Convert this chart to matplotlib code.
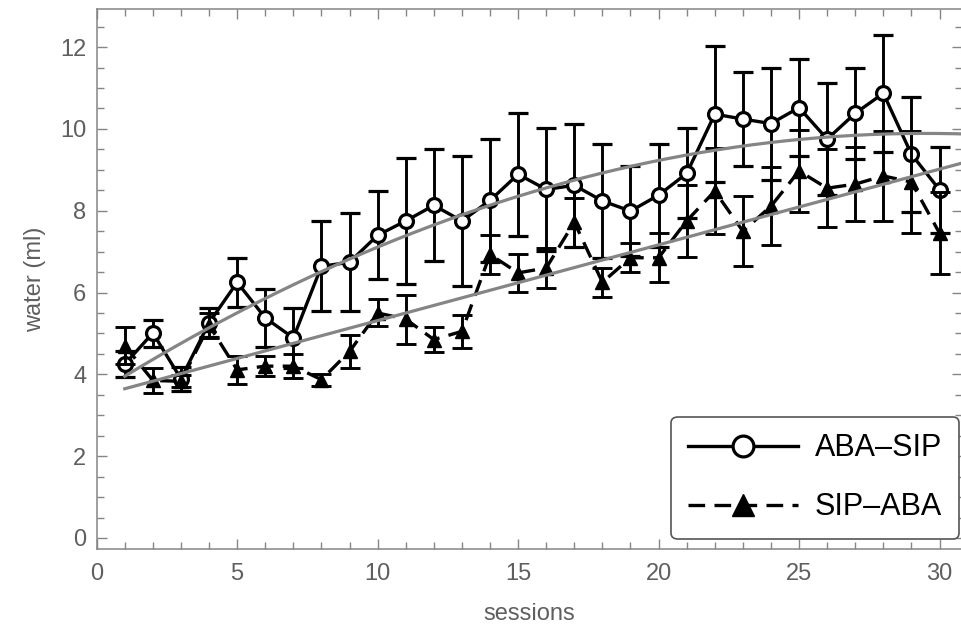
import numpy as np
import matplotlib
matplotlib.use("Agg")
import matplotlib.pyplot as plt
from matplotlib.ticker import MultipleLocator

plt.rcParams['font.family'] = ['Liberation Sans', 'DejaVu Sans']

# datos
sesiones = list(range(1, 31))
aba_sip = [4.25, 5.01, 3.89, 5.26, 6.25, 5.38, 4.89, 6.64, 6.74, 7.40,
           7.75, 8.13, 7.75, 8.25, 8.89, 8.52, 8.62, 8.24, 7.99, 8.38,
           8.91, 10.36, 10.24, 10.13, 10.52, 9.75, 10.38, 10.87, 9.38, 8.51]
aba_sip_err = [0.32, 0.33, 0.30, 0.35, 0.60, 0.70, 0.74, 1.10, 1.20, 1.07,
               1.55, 1.37, 1.58, 1.50, 1.50, 1.50, 1.50, 1.40, 1.10, 1.26,
               1.10, 1.66, 1.14, 1.37, 1.19, 1.36, 1.12, 1.43, 1.40, 1.05]
sip_aba = [4.70, 3.85, 3.83, 5.20, 4.11, 4.20, 4.20, 3.87, 4.56, 5.50,
           5.35, 4.85, 5.05, 6.93, 6.48, 6.60, 7.72, 6.25, 6.85, 6.85,
           7.75, 8.48, 7.50, 8.11, 8.97, 8.55, 8.65, 8.85, 8.70, 7.45]
sip_aba_err = [0.45, 0.30, 0.15, 0.30, 0.35, 0.25, 0.30, 0.15, 0.40, 0.33,
               0.60, 0.30, 0.40, 0.47, 0.47, 0.50, 0.60, 0.35, 0.35, 0.60,
               0.88, 1.05, 0.85, 0.95, 1.00, 0.95, 0.90, 1.10, 1.25, 1.00]
etiquetas = ["ABA\u2013SIP", "SIP\u2013ABA"]

gris = "#858585"
texto_gris = "#5f5f5f"

fig = plt.figure(figsize=(9.62, 6.35), dpi=100)
ax = fig.add_axes([0.1005, 0.1354, 0.8995, 0.8504])

# ajustes (cuadratico y lineal) calculados desde los datos
xs = np.linspace(1, 31, 200)
c1 = np.polyfit(sesiones, aba_sip, 2)
c2 = np.polyfit(sesiones, sip_aba, 1)
ax.plot(xs, np.polyval(c1, xs), color=gris, lw=2.3, zorder=10)
ax.plot(xs, np.polyval(c2, xs), color=gris, lw=2.3, zorder=10)

eb1 = ax.errorbar(sesiones, aba_sip, yerr=aba_sip_err, color="black", lw=2.4,
                  marker="o", ms=10, mfc="white", mec="black", mew=2.3,
                  ecolor="black", elinewidth=2.1, capsize=7, capthick=2.1,
                  zorder=3)
eb2 = ax.errorbar(sesiones, sip_aba, yerr=sip_aba_err, color="black", lw=2.4,
                  ls=(0, (5, 2.8)), marker="^", ms=10.5, mfc="black", mec="black",
                  ecolor="black", elinewidth=2.1, capsize=7, capthick=2.1,
                  zorder=4)

ax.set_xlim(0, 30.8)
ax.set_ylim(-0.27, 12.93)
ax.xaxis.set_major_locator(MultipleLocator(5))
ax.xaxis.set_minor_locator(MultipleLocator(1))
ax.yaxis.set_major_locator(MultipleLocator(2))
ax.yaxis.set_minor_locator(MultipleLocator(0.5))
ax.tick_params(which="both", direction="in", top=True, right=True,
               color=gris, width=1, labelcolor=texto_gris, labelsize=17)
ax.tick_params(which="major", length=7.5)
ax.tick_params(which="minor", length=4.7)
ax.tick_params(axis="x", pad=10)
ax.tick_params(axis="y", pad=7.5)
for s in ax.spines.values():
    s.set_color(gris)
    s.set_linewidth(1.1)

ax.set_xlabel("sessions", fontsize=17, color=texto_gris, labelpad=13)
ax.set_ylabel("water (ml)", fontsize=17, color=texto_gris, labelpad=10)

leg = ax.legend([eb1[0], eb2[0]], etiquetas, loc="lower right",
                bbox_to_anchor=(0.9967, 0.018), borderaxespad=0,
                fontsize=22, handlelength=3.6, handletextpad=0.55,
                labelspacing=0.95, borderpad=0.55, markerscale=1.5,
                fancybox=True, framealpha=1, edgecolor="#555555")
leg.get_frame().set_linewidth(1.2)

plt.savefig("out.png", dpi=100)
